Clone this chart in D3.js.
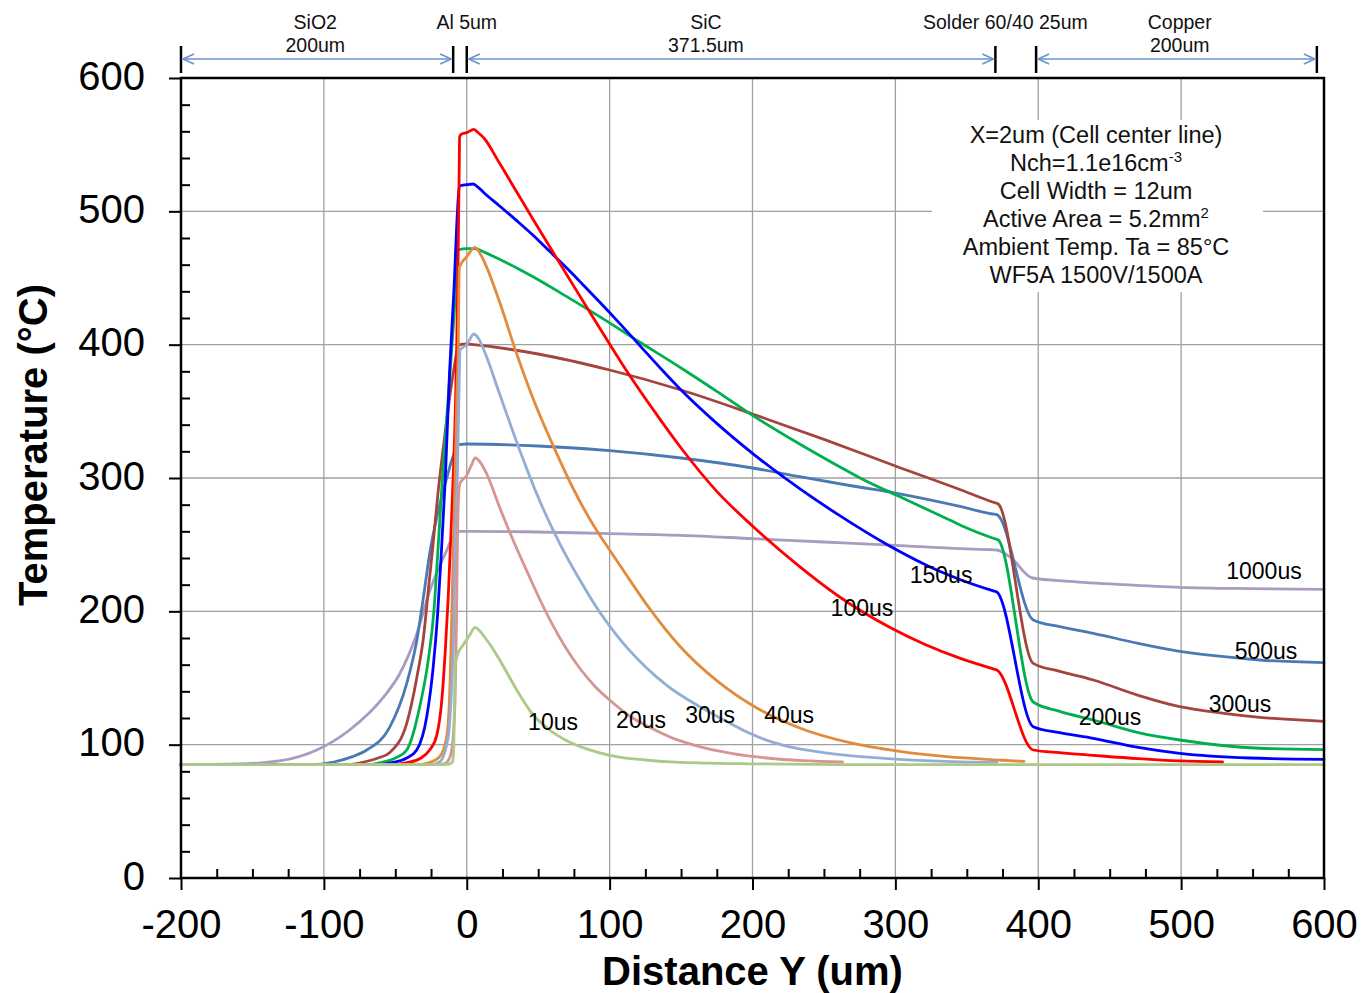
<!DOCTYPE html>
<html>
<head>
<meta charset="utf-8">
<script src="https://cdn.jsdelivr.net/npm/d3@7"></script>
<style>
  body { margin: 0; background: #ffffff; }
  svg { display: block; font-family: Arial, "Liberation Sans", sans-serif; }
</style>
</head>
<body>
<svg id="chart" width="1363" height="993"></svg>
<script>
// ---- Temperature profiles along Y at the cell center line, one per time step ----
const seriesNames  = ["10us", "20us", "30us", "40us", "100us", "150us", "200us", "300us", "500us", "1000us"];
const seriesColors = ["#abc987", "#d69592", "#93add6", "#e38b3c", "#ff0000", "#0000ff", "#00b050", "#a5443e", "#4a7ab4", "#a99bc1"];

const t10us = [[-200,85],[-20,85],[-12,85.5],[-10,87],[-9.2,95],[-8.6,130],[-8,160],[-6.6,167],[-2.4,175],[2,182],[5.8,188],[9,185.5],[13,180],[17,174],[25,160],[35,141],[46,123],[58,111],[70,103],[85,96.5],[100,92],[125,88.5],[150,86.7],[200,85.6],[260,85.1],[600,85]];
const t20us = [[-200,85],[-20,85],[-15,86],[-12.5,89],[-10.5,96],[-8.2,133],[-7.2,190],[-6.6,246],[-5.5,290],[-4.7,296],[0,302],[3,309],[6,315],[10,311],[14,303],[23,278],[33,252],[43,228],[52,207],[60,190],[68,175],[80,156],[90,143.5],[100,133.5],[114,121.5],[128,113],[145,104.5],[163,98.5],[185,93.5],[210,90],[235,88],[263,87]];
const t30us = [[-200,85],[-25,85],[-19,87],[-13,106],[-10.5,146],[-8.9,196],[-8.2,246],[-6.6,300],[-5.5,360],[-4.7,396],[0,400],[5,408],[8,405],[12,396],[23,363],[37,321],[51,283],[65,251],[80,222],[93,199.5],[105,182],[112,173],[125,158.5],[140,144.5],[163,128.5],[180,118.5],[198,108.5],[215,101.5],[233,96.8],[250,94],[268,91.8],[303,89],[340,87.3],[371,86.7]];
const t40us = [[-200,85],[-35,85],[-28,86],[-19,91],[-14,106],[-11.7,146],[-10.5,196],[-9.4,246],[-8.2,300],[-7,360],[-6,395],[-5.2,458],[0,466],[5.8,473],[9,469],[14,458],[23.3,431],[35,393],[47,358],[61,323],[75,291],[89,264],[100,246],[110,230],[128,202],[149,174],[175,148],[203,127.5],[233,112.5],[268,101.5],[303,95],[336,91],[375,88.3],[390,87.4]];
const t100us = [[-200,85],[-52,85],[-42,86.5],[-32,90],[-26,96],[-21,107],[-17.5,133],[-15,171],[-13,210],[-11,260],[-9.5,300],[-8,350],[-7,400],[-6,470],[-5.3,530],[-5,556],[-3.6,558],[0,559],[5,561.5],[8,559],[12,555],[23,536],[35,514.5],[47,493],[60,470],[70,452.5],[80,435],[93,412.5],[110,383.5],[130,352],[150,322.5],[175,290],[200,264],[233,233.5],[260,211.5],[296,188],[320,175.5],[346,164.5],[368,157],[371,156],[396.5,96],[415,94],[438.5,92],[470,89.5],[499,87.8],[529,87]];
const t150us = [[-200,85],[-62,85],[-52,86.5],[-42,90],[-35,96],[-28,121],[-23.5,158],[-20.5,196],[-18,240],[-15,300],[-12,380],[-9,440],[-6.5,500],[-5.2,519],[0,520],[4.6,520.5],[8,518],[12,514],[23,504],[35,493],[47,481.5],[58,470],[70,457.5],[80,446.5],[93,432],[107,416],[121,399.5],[135,383],[150,366],[175,341],[200,318.5],[233,292],[260,272.5],[296,249],[331,230],[346,223.5],[368,215.5],[371,214.5],[396.5,113.5],[415,109],[438.5,104.8],[470,98],[499,93.5],[548,90],[600,89]];
const t200us = [[-200,85],[-70,85],[-60,86.5],[-50,90],[-42,96],[-33,128],[-27,163],[-23,200],[-20.5,240],[-17,300],[-13,360],[-9,420],[-6,471],[0,472],[5.8,472],[12,469.5],[20,465.5],[35,457.5],[47,450.5],[70,436],[93,421],[121,402],[150,382.5],[175,365],[200,347],[233,325.5],[260,309],[277,299],[301,287],[338,268.5],[350,262.5],[368,255],[372,253.5],[396.5,132],[415,125],[438.5,118.5],[470,109],[499,103.5],[555,97.3],[600,96.3]];
const t300us = [[-200,85],[-85,85],[-72,87],[-62,90],[-54,94],[-42,116],[-35,150],[-30,183],[-27,215],[-24,246],[-20,290],[-15,335],[-10,375],[-5,400],[0,400.5],[5,400],[50,393],[100,381],[150,366],[200,348],[250,329],[300,309],[346,291],[368,282],[372,280.5],[396.5,161],[415,155],[438.5,148.5],[470,137],[499,128.5],[530,123.5],[555,120.5],[600,117.5]];
const t500us = [[-200,85],[-110,85],[-93,87],[-80,91],[-70,96],[-54,113],[-42,146],[-35,178],[-30,213],[-26,243],[-20,275],[-14,300],[-9,318],[-5.5,325],[0,325.5],[50,324],[100,320.5],[150,315],[200,307.5],[233,301],[270,294],[301,288.5],[346,278.5],[368,273],[371,272.5],[396.5,193.5],[415,188.5],[438.5,183.5],[470,176],[499,170],[530,166],[555,163.5],[600,161.5]];
const t1000us = [[-200,85],[-160,85.5],[-130,88],[-105,96],[-82,111],[-58,136],[-47,153],[-35,183],[-26,215],[-16,241],[-6,260],[0,260],[40,259.7],[93,258.5],[150,257],[200,254.5],[250,252],[300,249.5],[346,247],[368,246.2],[371,246],[380,241],[396,225],[422,222.5],[460,220],[499,218],[550,217],[600,216.5]];

const seriesData = [t10us, t20us, t30us, t40us, t100us, t150us, t200us, t300us, t500us, t1000us];

// Curve label anchors in (distance, temperature) units
const labelAnchors = [[60.4,117],[122,118.5],[170.3,122.3],[225.6,122.3],[276.6,202.5],[332,227.3],[450.2,120.8],[541.2,130.5],[559.4,170.3],[558,230.3]];

// Axes
const xTicks = [-200, -100, 0, 100, 200, 300, 400, 500, 600];
const yTicks = [0, 100, 200, 300, 400, 500, 600];
const xMinor = d3.range(-200, 601, 25).filter(v => v % 100 !== 0);
const yMinor = d3.range(0, 601, 20).filter(v => v % 100 !== 0);

// Layer stack dimension marks along the top
const layerTitles = [["SiO2", "200um"], ["Al 5um"], ["SiC", "371.5um"], ["Solder 60/40 25um"], ["Copper", "200um"]];
const layerTitleX = [-106, 0, 167.4, 377, 499];
const layerBars  = [-200, -9.5, 0, 370, 398.5, 595];
const layerSpans = [[-200, -9.5], [0, 370], [398.5, 595]];

// Simulation conditions note
const noteLines = [
  ["X=2um (Cell center line)", ""],
  ["Nch=1.1e16cm", "-3"],
  ["Cell Width = 12um", ""],
  ["Active Area = 5.2mm", "2"],
  ["Ambient Temp. Ta = 85\u00B0C", ""],
  ["WF5A 1500V/1500A", ""]
];

// ---- Layout ----
const svg = d3.select("#chart");
const plot = { left: 181, right: 1324, top: 78, bottom: 878 };

const x = d3.scaleLinear().domain([-200, 600]).range([plot.left, plot.right]);
const y = d3.scaleLinear().domain([0, 600]).range([plot.bottom, plot.top]);

svg.append("rect").attr("width", 1363).attr("height", 993).attr("fill", "#ffffff");

// Gridlines
const grid = svg.append("g").attr("stroke", "#a0a0a0").attr("stroke-width", 1.3);
grid.selectAll("line.gx").data(xTicks.slice(1, -1)).join("line")
  .attr("x1", d => x(d)).attr("x2", d => x(d))
  .attr("y1", plot.top).attr("y2", plot.bottom);
grid.selectAll("line.gy").data(yTicks.slice(1, -1)).join("line")
  .attr("x1", plot.left).attr("x2", plot.right)
  .attr("y1", d => y(d)).attr("y2", d => y(d));

// Note box (white panel over the grid)
const noteCx = 1096;
svg.append("rect").attr("x", 932).attr("y", 120).attr("width", 331).attr("height", 172).attr("fill", "#ffffff");
noteLines.forEach((ln, i) => {
  const t = svg.append("text").attr("text-anchor", "middle").attr("font-size", 23.5).attr("fill", "#111")
    .attr("x", noteCx).attr("y", 143.3 + i * 28);
  t.append("tspan").text(ln[0]);
  if (ln[1]) t.append("tspan").attr("font-size", 15).attr("dy", -9).text(ln[1]);
});

// Curves
const line = d3.line().x(d => x(d[0])).y(d => y(d[1])).curve(d3.curveMonotoneX);
const curves = svg.append("g").attr("fill", "none").attr("stroke-width", 2.8)
  .attr("stroke-linejoin", "round").attr("stroke-linecap", "round");
const order = d3.range(seriesData.length).reverse();
curves.selectAll("path").data(order).join("path")
  .attr("stroke", i => seriesColors[i])
  .attr("d", i => line(seriesData[i]));

// Curve labels
svg.append("g").attr("font-size", 23).attr("fill", "#000").attr("text-anchor", "middle")
  .selectAll("text").data(seriesNames).join("text")
  .attr("x", (d, i) => x(labelAnchors[i][0]))
  .attr("y", (d, i) => y(labelAnchors[i][1]))
  .attr("dy", "0.36em")
  .text(d => d);

// Frame
svg.append("rect").attr("x", plot.left).attr("y", plot.top)
  .attr("width", plot.right - plot.left).attr("height", plot.bottom - plot.top)
  .attr("fill", "none").attr("stroke", "#000").attr("stroke-width", 2.5);

// Axes (plain hyphen-minus for negative tick values)
const plainFmt = d => String(d);
const yAxis = d3.axisLeft(y).tickValues(yTicks).tickSize(12).tickPadding(24).tickFormat(plainFmt);
const gy = svg.append("g").attr("transform", `translate(${plot.left},0)`).call(yAxis);
gy.select(".domain").remove();
gy.selectAll(".tick line").attr("stroke", "#000").attr("stroke-width", 2);
gy.selectAll(".tick text").attr("font-size", 40).attr("font-family", "Arial, 'Liberation Sans', sans-serif")
  .attr("fill", "#000").attr("dy", "0.28em");

const yAxisMinor = d3.axisLeft(y).tickValues(yMinor).tickSize(-9).tickFormat("");
const gym = svg.append("g").attr("transform", `translate(${plot.left},0)`).call(yAxisMinor);
gym.select(".domain").remove();
gym.selectAll(".tick line").attr("stroke", "#000").attr("stroke-width", 2);

const xAxis = d3.axisBottom(x).tickValues(xTicks).tickSize(12).tickPadding(20).tickFormat(plainFmt);
const gx = svg.append("g").attr("transform", `translate(0,${plot.bottom})`).call(xAxis);
gx.select(".domain").remove();
gx.selectAll(".tick line").attr("stroke", "#000").attr("stroke-width", 2);
gx.selectAll(".tick text").attr("font-size", 40).attr("font-family", "Arial, 'Liberation Sans', sans-serif")
  .attr("fill", "#000");

const xAxisMinor = d3.axisBottom(x).tickValues(xMinor).tickSize(-9).tickFormat("");
const gxm = svg.append("g").attr("transform", `translate(0,${plot.bottom})`).call(xAxisMinor);
gxm.select(".domain").remove();
gxm.selectAll(".tick line").attr("stroke", "#000").attr("stroke-width", 2);

// Axis titles
svg.append("text").attr("x", x(200)).attr("y", 985).attr("text-anchor", "middle")
  .attr("font-size", 40).attr("font-weight", "bold").attr("fill", "#000")
  .text("Distance Y (um)");
svg.append("text").attr("transform", "translate(47,445) rotate(-90)").attr("text-anchor", "middle")
  .attr("font-size", 40).attr("font-weight", "bold").attr("fill", "#000")
  .text("Temperature (\u00B0C)");

// Layer dimension marks
const dimY = 59;
const dims = svg.append("g");
dims.selectAll("line.bar").data(layerBars).join("line")
  .attr("x1", d => x(d)).attr("x2", d => x(d)).attr("y1", 46).attr("y2", 73)
  .attr("stroke", "#000").attr("stroke-width", 2.5);
const arrowColor = "#6a93cc";
layerSpans.forEach(s => {
  const x0 = x(s[0]) + 2, x1 = x(s[1]) - 2;
  dims.append("line").attr("x1", x0).attr("x2", x1).attr("y1", dimY).attr("y2", dimY)
    .attr("stroke", arrowColor).attr("stroke-width", 1.6);
  dims.append("path").attr("d", `M${x0 + 11},${dimY - 5}L${x0},${dimY}L${x0 + 11},${dimY + 5}`)
    .attr("fill", "none").attr("stroke", arrowColor).attr("stroke-width", 1.6);
  dims.append("path").attr("d", `M${x1 - 11},${dimY - 5}L${x1},${dimY}L${x1 - 11},${dimY + 5}`)
    .attr("fill", "none").attr("stroke", arrowColor).attr("stroke-width", 1.6);
});
layerTitles.forEach((lines, i) => {
  lines.forEach((s, j) => {
    dims.append("text").attr("x", x(layerTitleX[i])).attr("y", 29.3 + j * 22.4)
      .attr("text-anchor", "middle").attr("font-size", 19.5).attr("fill", "#111").text(s);
  });
});
</script>
</body>
</html>
